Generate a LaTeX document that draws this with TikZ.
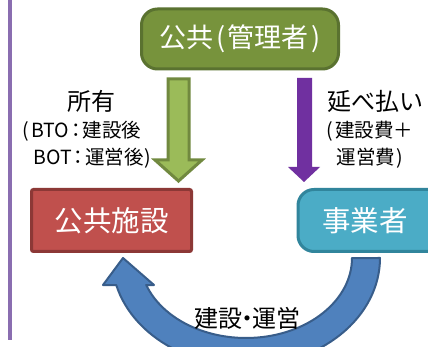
\documentclass[tikz,border=0pt]{standalone}
\usepackage{fontspec}
\setmainfont{Noto Sans CJK JP}
\usetikzlibrary{calc}
\definecolor{topfill}{HTML}{77933C}
\definecolor{topline}{HTML}{5A7230}
\definecolor{garrow}{HTML}{9BBB59}
\definecolor{garrowline}{HTML}{71893F}
\definecolor{parrow}{HTML}{7030A0}
\definecolor{redfill}{HTML}{C0504D}
\definecolor{redline}{HTML}{8C3836}
\definecolor{bluefill}{HTML}{4BACC6}
\definecolor{blueline}{HTML}{31859C}
\definecolor{curvefill}{HTML}{4F81BD}
\definecolor{curveline}{HTML}{385D8A}
\definecolor{sideline}{HTML}{8A6DB0}
\tikzset{
  box/.style={line width=3pt, text=white, inner sep=0pt},
  lbl/.style={text=black, inner sep=0pt},
  fbig/.style={font=\fontsize{27}{32}\selectfont},
  fnode/.style={font=\fontsize{28.5}{32}\selectfont},
  fhead/.style={font=\fontsize{24}{28}\selectfont},
  fsmall/.style={font=\fontsize{19.5}{23}\selectfont},
}
\begin{document}
\begin{tikzpicture}[x=1pt,y=-1pt]
\useasboundingbox (0,0) rectangle (428,347);
\fill[white] (0,0) rectangle (428,347);
\clip (0,0) rectangle (428,347);
% left side line
\draw[sideline, line width=4pt] (10,-2) -- (10,340);
% nodes
\node[box, fbig, fill=topfill, draw=topline, rounded corners=16pt,
      minimum width=197pt, minimum height=60pt] (top) at (240,39) {公共\hspace{3pt}(\hspace{2pt}管理者\hspace{3pt})};
\node[box, fnode, fill=redfill, draw=redline, rounded corners=2pt,
      minimum width=160pt, minimum height=62pt] (fac) at (111.5,220.5) {公共施設};
\node[box, fnode, fill=bluefill, draw=blueline, rounded corners=16pt,
      minimum width=148pt, minimum height=62pt] (biz) at (372,220.5) {\hspace{-14pt}事業者};
% green block arrow (ownership)
\filldraw[fill=garrow, draw=garrowline, line width=3pt, line join=miter]
  (168,79) -- (189,79) -- (189,160) -- (202,160) -- (178.5,181) -- (155,160) -- (168,160) -- cycle;
% purple block arrow (deferred payment)
\fill[parrow]
  (297,78) -- (312,78) -- (312,167) -- (320,167) -- (304,182) -- (288,167) -- (297,167) -- cycle;
% curved arrow (construction / operation)
\filldraw[fill=curvefill, draw=curveline, line width=2pt, line join=round]
  plot[domain=0:165.5, samples=60, variable=\t] ({246+134*cos(\t)},{258+108*sin(\t)})
  -- (103,285) -- (123,258) -- (154,285) -- (146.2,285)
  -- plot[domain=160.3:0, samples=60, variable=\t] ({246+106*cos(\t)},{258+80*sin(\t)})
  -- cycle;
% labels
\node[lbl, fhead] (own) at (91,101) {所有};
\node[lbl, fsmall] (own1) at (82,131) {(\hspace{2pt}BTO\hspace{-3pt}：\hspace{-3pt}建設後};
\node[lbl, fsmall] (own2) at (92.5,158) {BOT\hspace{-3pt}：\hspace{-3pt}運営後\hspace{1pt})};
\node[lbl, fhead] (pay) at (375,101) {延べ払い};
\node[lbl, fsmall] (pay1) at (370,131) {(\hspace{2pt}建設費＋};
\node[lbl, fsmall] (pay2) at (370,158) {運営費\hspace{1pt})};
\node[lbl, fhead] (build) at (247,318) {建設\hspace{-7pt}・\hspace{-7pt}運営};
\end{tikzpicture}
\end{document}
